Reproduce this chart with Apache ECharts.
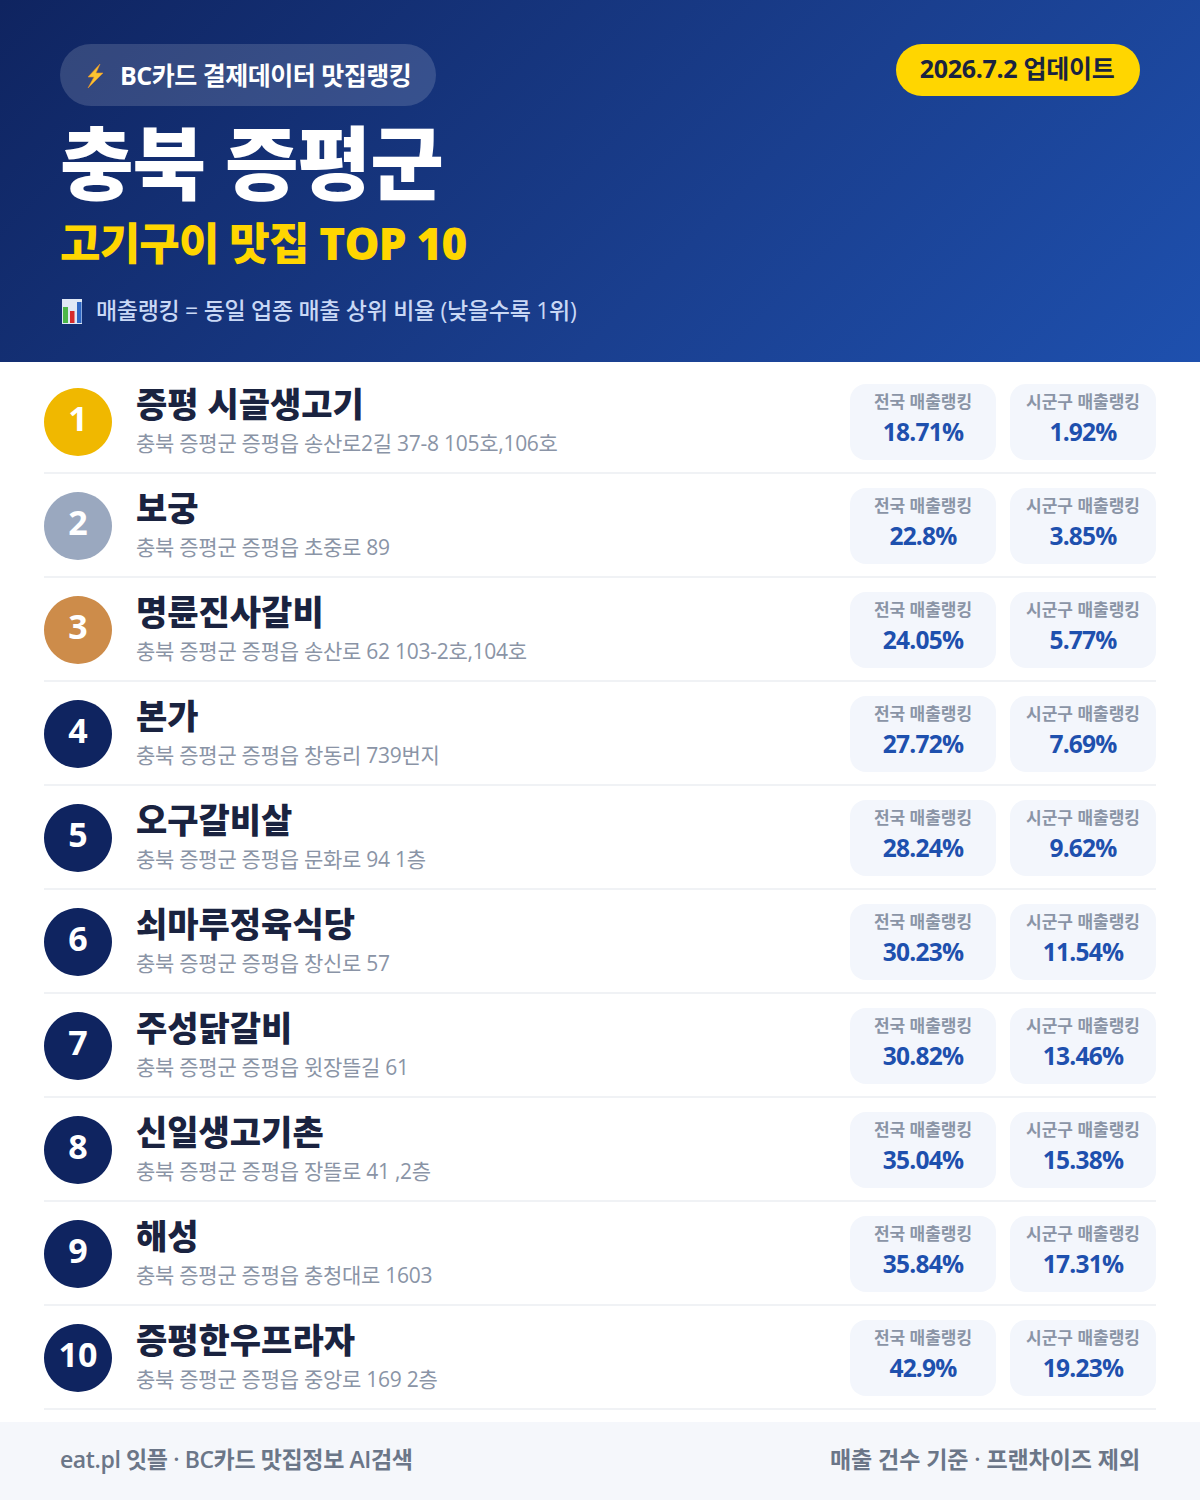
<!DOCTYPE html>
<html><head><meta charset="utf-8">
<style>html,body{margin:0;padding:0;background:#fff}#c{width:1200px;height:1500px}
#c text[style*="24.53px"]{letter-spacing:-0.8px}
#c text[style*="25.01px"]{letter-spacing:-0.5px}
#c text[style*="25.02px"]{letter-spacing:-0.3px}
#c text[style*="80.01px"]{letter-spacing:-1px}
#c text[style*="44.01px"]{letter-spacing:-0.8px}
#c text[style*="23.01px"]{letter-spacing:-0.3px}
#c text[style*="23.04px"]{letter-spacing:-0.4px}
#c text[style*="23.05px"]{letter-spacing:-0.1px}
#c text[style*="21.01px"]{letter-spacing:-0.27px}
</style>
<script src="https://cdn.jsdelivr.net/npm/echarts@6/dist/echarts.min.js"></script>
</head><body><div id="c"></div>
<script>
const ranks=[1,2,3,4,5,6,7,8,9,10];
const names=['증평 시골생고기','보궁','명륜진사갈비','본가','오구갈비살','쇠마루정육식당','주성닭갈비','신일생고기촌','해성','증평한우프라자'];
const addresses=['충북 증평군 증평읍 송산로2길 37-8 105호,106호','충북 증평군 증평읍 초중로 89','충북 증평군 증평읍 송산로 62 103-2호,104호','충북 증평군 증평읍 창동리 739번지','충북 증평군 증평읍 문화로 94 1층','충북 증평군 증평읍 창신로 57','충북 증평군 증평읍 윗장뜰길 61','충북 증평군 증평읍 장뜰로 41 ,2층','충북 증평군 증평읍 충청대로 1603','충북 증평군 증평읍 중앙로 169 2층'];
const nationalRank=['18.71%','22.8%','24.05%','27.72%','28.24%','30.23%','30.82%','35.04%','35.84%','42.9%'];
const districtRank=['1.92%','3.85%','5.77%','7.69%','9.62%','11.54%','13.46%','15.38%','17.31%','19.23%'];
const FF='"Open Sans","Noto Sans CJK KR",sans-serif';
const chart=echarts.init(document.getElementById('c'),null,{renderer:'svg',width:1200,height:1500});
function T(x,y,text,size,weight,fill,align){return {type:'text',x:x,y:y,silent:true,style:{text:text,font:weight+' '+size+'px '+FF,fill:fill,align:align||'left',verticalAlign:'middle'}};}
function R(x,y,w,h,r,fill){return {type:'rect',shape:{x:x,y:y,width:w,height:h,r:r},silent:true,style:{fill:fill}};}
const circleColor=i=>i===0?'#f0b800':i===1?'#9aa8bf':i===2?'#cd8c4a':'#0f2460';
function renderRow(params,api){
  const i=api.value(1);
  const c=api.coord([0,i]);const cy=c[1];
  return {type:'group',children:[
    {type:'circle',shape:{cx:78,cy:cy,r:34},style:{fill:circleColor(i)}},
    T(78,cy-4,String(ranks[i]),34,'700','#ffffff','center'),
    T(136,cy-18,names[i],34,'800','#1a2340'),
    T(136,cy+21,addresses[i],21.01,'400','#8a94a6'),
    R(850,cy-38,146,76,16,'#f3f6fc'),
    T(923,cy-21,'전국 매출랭킹',17,'700','#8a94a6','center'),
    T(923,cy+9,nationalRank[i],24.53,'700','#1e50ae','center'),
    R(1010,cy-38,146,76,16,'#f3f6fc'),
    T(1083,cy-21,'시군구 매출랭킹',17,'700','#8a94a6','center'),
    T(1083,cy+9,districtRank[i],24.53,'700','#1e50ae','center'),
    R(44,cy+50,1112,2,0,'#f0f2f5')
  ]};
}
const option={
  animation:false,
  backgroundColor:'#ffffff',
  grid:{left:0,right:0,top:370,height:1040},
  xAxis:{type:'value',min:0,max:1200,show:false},
  yAxis:{type:'category',inverse:true,show:false,data:ranks.map(String)},
  series:[{type:'custom',coordinateSystem:'cartesian2d',silent:true,clip:false,renderItem:renderRow,encode:{x:0,y:1},
    data:ranks.map((r,i)=>[0,i])}],
  graphic:{elements:[
    {type:'rect',z:-1,shape:{x:0,y:0,width:1200,height:362},silent:true,style:{fill:new echarts.graphic.LinearGradient(209.5,-209.5,990.5,571.5,[{offset:0,color:'#0f2460'},{offset:0.6,color:'#1a3f8f'},{offset:1,color:'#1e50ae'}],true)}},
    {type:'rect',shape:{x:60,y:44,width:376,height:62,r:31},silent:true,style:{fill:'rgba(255,255,255,0.15)'}},
    {type:'polygon',shape:{points:[[100,64],[88,77],[94,77],[88,88],[103,73],[96,73]]},silent:true,style:{fill:'#fbc531',stroke:'#e8912a',lineWidth:0.6}},
    {type:'text',x:120,y:75,silent:true,style:{text:'BC카드 결제데이터 맛집랭킹',font:'700 25.01px '+FF,fill:'#fff',verticalAlign:'middle'}},
    {type:'text',x:60,y:161,silent:true,style:{text:'충북 증평군',font:'900 80.01px '+FF,fill:'#fff',verticalAlign:'middle'}},
    {type:'text',x:60,y:243,silent:true,style:{text:'고기구이 맛집 TOP 10',font:'800 44.01px '+FF,fill:'#ffd600',verticalAlign:'middle'}},
    {type:'rect',shape:{x:62,y:299,width:20,height:25},silent:true,style:{fill:'#dfe8f5'}},
    {type:'rect',shape:{x:63,y:307,width:5,height:16},silent:true,style:{fill:'#4cb648'}},
    {type:'rect',shape:{x:70,y:311,width:4.5,height:12},silent:true,style:{fill:'#d62b2b'}},
    {type:'rect',shape:{x:77,y:302,width:4.5,height:21},silent:true,style:{fill:'#2f68c4'}},
    {type:'text',x:96,y:310,silent:true,style:{text:'매출랭킹 = 동일 업종 매출 상위 비율 (낮을수록 1위)',font:'500 23.01px '+FF,fill:'#c9d8f5',verticalAlign:'middle'}},
    {type:'rect',shape:{x:896,y:44,width:244,height:52,r:26},silent:true,style:{fill:'#ffd600'}},
    {type:'text',x:1017,y:68,silent:true,style:{text:'2026.7.2 업데이트',font:'700 25.02px '+FF,fill:'#1a2340',align:'center',verticalAlign:'middle'}},
    {type:'rect',shape:{x:0,y:1422,width:1200,height:78},silent:true,style:{fill:'#f5f7fb'}},
    {type:'text',x:60,y:1459,silent:true,style:{text:'eat.pl 잇플 · BC카드 맛집정보 AI검색',font:'600 23.04px '+FF,fill:'#6b7688',verticalAlign:'middle'}},
    {type:'text',x:1140,y:1459,silent:true,style:{text:'매출 건수 기준 · 프랜차이즈 제외',font:'600 23.05px '+FF,fill:'#6b7688',align:'right',verticalAlign:'middle'}}
  ]}
};
chart.setOption(option);
</script></body></html>
